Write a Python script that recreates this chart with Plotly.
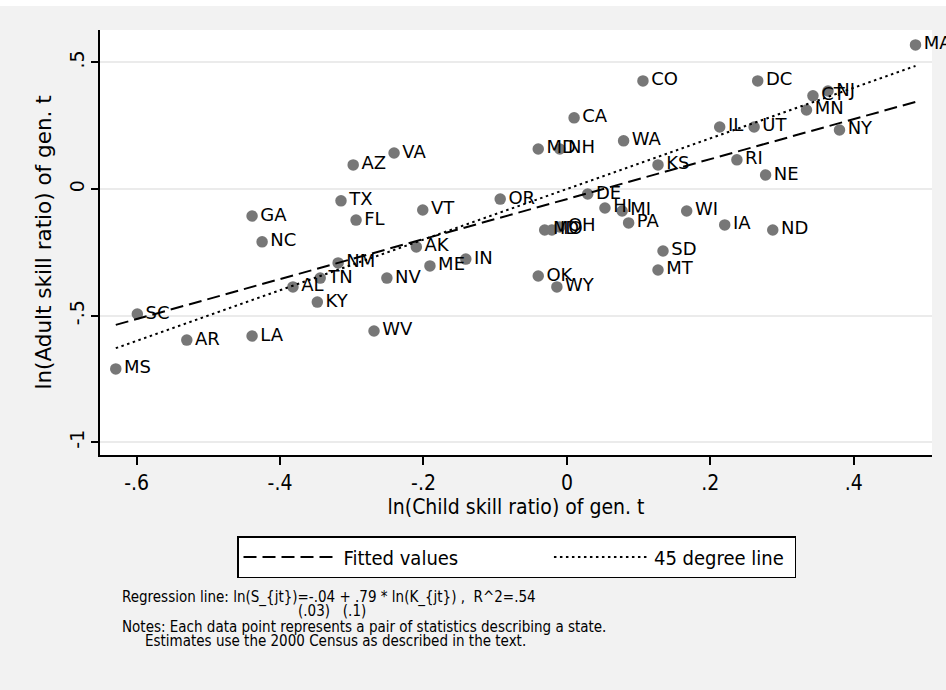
import plotly.graph_objects as go

# ---- data ----
states = ["MA","CO","DC","CT","NJ","MN","IL","UT","NY","CA","WA","MD","NH","KS","RI","NE",
          "OR","DE","HI","MI","PA","MO","ID","OH","WI","IA","ND","SD","MT","OK","WY",
          "VA","AZ","TX","FL","GA","VT","NC","AK","IN","ME","NV","NM","TN","AL","KY",
          "LA","WV","SC","AR","MS"]
child_x = [0.486,0.106,0.266,0.343,0.364,0.334,0.213,0.261,0.380,0.010,0.079,-0.040,-0.010,0.127,0.237,0.277,
           -0.093,0.029,0.053,0.077,0.086,-0.031,-0.021,-0.010,0.167,0.220,0.287,0.134,0.127,-0.040,-0.014,
           -0.241,-0.298,-0.315,-0.294,-0.439,-0.201,-0.425,-0.210,-0.141,-0.191,-0.251,-0.319,-0.344,-0.382,-0.348,
           -0.439,-0.269,-0.599,-0.530,-0.629]
adult_y = [0.569,0.427,0.427,0.368,0.387,0.312,0.245,0.245,0.233,0.281,0.190,0.158,0.158,0.095,0.115,0.055,
           -0.040,-0.020,-0.075,-0.087,-0.134,-0.162,-0.162,-0.150,-0.087,-0.142,-0.162,-0.245,-0.320,-0.344,-0.387,
           0.142,0.095,-0.047,-0.123,-0.107,-0.083,-0.209,-0.229,-0.277,-0.304,-0.352,-0.292,-0.352,-0.387,-0.447,
           -0.581,-0.561,-0.494,-0.597,-0.711]

reg_intercept = -0.04
reg_slope = 0.79

x_ticks = [-0.6, -0.4, -0.2, 0, 0.2, 0.4]
x_ticklabels = ["-.6", "-.4", "-.2", "0", ".2", ".4"]
y_ticks = [-1, -0.5, 0, 0.5]
y_ticklabels = ["-1", "-.5", "0", ".5"]

legend_names = ["Fitted values", "45 degree line"]

# ---- figure geometry ----
W, H = 946, 690
ML, MR, MT, MB = 100, 14, 30, 235
PW, PH = W - ML - MR, H - MT - MB

def px_x(px):
    return (px - ML) / PW

def px_y(py):
    return (H - MB - py) / PH

NARROW = "Liberation Sans Narrow, DejaVu Sans Condensed, Arial Narrow, sans-serif"
WIDE = "DejaVu Sans, Verdana, sans-serif"

xs_sorted = sorted(child_x)
fitted = [reg_intercept + reg_slope * v for v in xs_sorted]

fig = go.Figure()
fig.add_trace(go.Scatter(
    x=child_x, y=adult_y, mode="markers+text", text=states,
    textposition="middle right",
    textfont=dict(family=WIDE, size=18, color="black"),
    marker=dict(size=11.5, color="#777777"),
    showlegend=False, cliponaxis=False))
fig.add_trace(go.Scatter(
    x=xs_sorted, y=fitted, mode="lines", name=legend_names[0] + "&nbsp;" * 15,
    line=dict(color="black", width=2, dash="13px,6px")))
fig.add_trace(go.Scatter(
    x=xs_sorted, y=xs_sorted, mode="lines", name=legend_names[1] + "&nbsp;",
    line=dict(color="black", width=2, dash="2.5px,3.5px")))

fig.update_layout(
    width=W, height=H,
    margin=dict(l=ML, r=MR, t=MT, b=MB, pad=0),
    paper_bgcolor="#f2f2f2", plot_bgcolor="white",
    font=dict(family=WIDE, color="black"),
    xaxis=dict(range=[-0.651, 0.509], tickvals=x_ticks, ticktext=x_ticklabels,
               showgrid=False, zeroline=False, showline=True, linecolor="black", linewidth=1.5,
               ticks="outside", ticklen=8, tickwidth=1.5, tickcolor="black",
               tickfont=dict(family=NARROW, size=21),
               title=dict(text="ln(Child skill ratio) of gen. t", font=dict(family=NARROW, size=21), standoff=4)),
    yaxis=dict(range=[-1.051, 0.628], tickvals=y_ticks, ticktext=y_ticklabels, tickangle=-90,
               showgrid=True, gridcolor="#ebebeb", gridwidth=1.5, zeroline=False,
               showline=True, linecolor="black", linewidth=1.5,
               ticks="outside", ticklen=7, tickwidth=1.5, tickcolor="black",
               tickfont=dict(family=WIDE, size=19),
               title=dict(text="ln(Adult skill ratio) of gen. t", font=dict(family=WIDE, size=21.5), standoff=8)),
    legend=dict(orientation="h", x=px_x(237), xanchor="left", y=px_y(536), yanchor="top",
                bgcolor="white", bordercolor="black", borderwidth=1.5,
                font=dict(family=NARROW, size=20), itemwidth=95),
    shapes=[dict(type="rect", xref="paper", yref="paper", x0=px_x(0), x1=px_x(W),
                 y0=px_y(6), y1=px_y(-2), fillcolor="white", line=dict(width=0))],
)

notes = [
    ("Regression line: ln(S_{jt})=-.04 + .79 * ln(K_{jt}) ,  R^2=.54", 120, 597),
    ("(.03)   (.1)", 296, 611),
    ("Notes: Each data point represents a pair of statistics describing a state.", 120, 627),
    ("Estimates use the 2000 Census as described in the text.", 143, 641),
]
for txt, xp, yp in notes:
    fig.add_annotation(text=txt, xref="paper", yref="paper", x=px_x(xp), y=px_y(yp),
                       xanchor="left", yanchor="middle", showarrow=False,
                       font=dict(family=NARROW, size=15, color="black"))

fig.write_html("out.html", config={"displayModeBar": False},
               post_script="document.body.style.margin='0px';")
